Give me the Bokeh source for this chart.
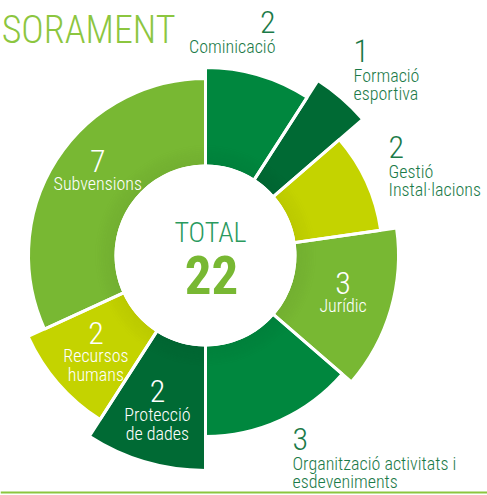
import math
from bokeh.plotting import figure
from bokeh.models import ColumnDataSource, Span
from bokeh.core.properties import value
from bokeh.embed import file_html
from bokeh.resources import INLINE

# ---------------- data ----------------
categories = ["Cominicació", "Formació esportiva", "Gestió Instal·lacions", "Jurídic",
              "Organització activitats i esdeveniments", "Protecció de dades",
              "Recursos humans", "Subvensions"]
label_lines = ["Cominicació", "Formació\nesportiva", "Gestió\nInstal·lacions", "Jurídic",
               "Organització activitats i\nesdeveniments", "Protecció\nde dades",
               "Recursos\nhumans", "Subvensions"]
values = [2, 1, 2, 3, 3, 2, 2, 7]
title_text = "SORAMENT"
total_label = "TOTAL"

# ---------------- styles ----------------
colors = ["#00873E", "#006A34", "#C4D300", "#78B833",
          "#00873E", "#006A34", "#C4D300", "#78B833"]
outer_r = [188, 208, 177, 193, 181, 215, 195, 177]
inner_r = 91
inside = [False, False, False, True, False, True, True, True]
angle_shift = [0, 0, 0, 2, 0, -1, 0, -6]       # degrees nudge for inside labels
radius_shift = [0, 0, 0, 0, 0, 8, 2, 4]
# outside label anchors (x, number baseline y, align) relative to the centre
outside_anchor = {0: (70, 222, "right"), 1: (148, 193, "left"),
                  2: (183, 97, "left"), 4: (87, -195, "left")}

FONT = "Roboto Condensed Light"
BOLD_FONT = "Roboto Condensed"
dark_text = "#1B7A48"
NUM_FS, LAB_FS = 32, 18


def lift(fs):
    # compensation so that the given y is the alphabetic baseline
    return 0.35 * fs


total = sum(values)
starts, ends, mids = [], [], []
acc = 0
for v in values:
    a0 = math.pi / 2 - acc / total * 2 * math.pi
    acc += v
    a1 = math.pi / 2 - acc / total * 2 * math.pi
    starts.append(a0)
    ends.append(a1)
    mids.append((a0 + a1) / 2)

src = ColumnDataSource(dict(cat=categories, val=values, start=starts, end=ends,
                            outer=outer_r, color=colors))

W, H = 487, 495
CX, CY = 205, 255          # centre of the ring in page pixels
p = figure(width=W, height=H, x_range=(-CX, W - CX), y_range=(CY - H, CY),
           output_backend="svg", toolbar_location=None, min_border=0)
p.axis.visible = False
p.grid.visible = False
p.outline_line_color = None
p.background_fill_color = "white"
p.border_fill_color = "white"

p.annular_wedge(x=0, y=0, inner_radius=inner_r, outer_radius="outer",
                start_angle="start", end_angle="end", direction="clock",
                fill_color="color", line_color=None, source=src)

# soft shadow of the central white disc
for i in range(10):
    p.annulus(x=0, y=0, inner_radius=inner_r + i * 2, outer_radius=inner_r + i * 2 + 2,
              fill_color="black", fill_alpha=0.045 * (1 - i / 10), line_color=None)

# white separators
p.annular_wedge(x=0, y=0, inner_radius=inner_r - 2, outer_radius="outer",
                start_angle="start", end_angle="end", direction="clock",
                fill_color=None, line_color="white", line_width=3, source=src)

# central white disc
p.circle(x=0, y=0, radius=inner_r, fill_color="white", line_color=None)

# labels
LINE = 18
num_x, num_y, num_t, num_c, num_a = [], [], [], [], []
lab_x, lab_y, lab_t, lab_c, lab_a = [], [], [], [], []
for i, (v, txt) in enumerate(zip(values, label_lines)):
    lines = txt.split("\n")
    if inside[i]:
        ang = mids[i] + math.radians(angle_shift[i])
        rr = (inner_r + outer_r[i]) / 2 + radius_shift[i]
        cx = rr * math.cos(ang)
        cy = rr * math.sin(ang)
        h = 25 + 19 * len(lines)
        top = cy + h / 2
        num_x.append(cx); num_y.append(top - 25 + lift(NUM_FS)); num_t.append(str(v))
        num_c.append("white"); num_a.append("center")
        for j, ln in enumerate(lines):
            lab_x.append(cx); lab_y.append(top - 25 - 19 * (j + 1) + 1 + lift(LAB_FS))
            lab_t.append(ln); lab_c.append("white"); lab_a.append("center")
    else:
        ax, ay, al = outside_anchor[i]
        num_x.append(ax); num_y.append(ay + lift(NUM_FS)); num_t.append(str(v))
        num_c.append(dark_text); num_a.append(al)
        for j, ln in enumerate(lines):
            lab_x.append(ax); lab_y.append(ay - 19 - LINE * j + lift(LAB_FS))
            lab_t.append(ln); lab_c.append(dark_text); lab_a.append(al)

p.text(x=num_x, y=num_y, text=num_t, text_color=num_c, text_align=num_a,
       text_baseline="alphabetic", text_font=value(FONT), text_font_size=f"{NUM_FS}px")
p.text(x=lab_x, y=lab_y, text=lab_t, text_color=lab_c, text_align=lab_a,
       text_baseline="alphabetic", text_font=value(FONT), text_font_size=f"{LAB_FS}px")

# centre total
p.text(x=[5], y=[13 + lift(28)], text=[total_label], text_color="#2A9A5E", text_align="center",
       text_baseline="alphabetic", text_font=value(FONT), text_font_size="28px")
p.text(x=[6], y=[-38 + lift(53)], text=[str(total)], text_color="#78B833", text_align="center",
       text_baseline="alphabetic", text_font=value(BOLD_FONT), text_font_size="53px",
       text_font_style="bold")

# title (cropped at the left in the original)
p.text(x=[175 - CX], y=[CY - 43 + lift(38)], text=[title_text], text_color="#8CC63F",
       text_align="right", text_baseline="alphabetic", text_font=value(FONT),
       text_font_size="38px")

# bottom rule
p.add_layout(Span(location=CY - 492, dimension="width", line_color="#8CC63F", line_width=2))

open("out.html", "w").write(file_html(p, INLINE))
